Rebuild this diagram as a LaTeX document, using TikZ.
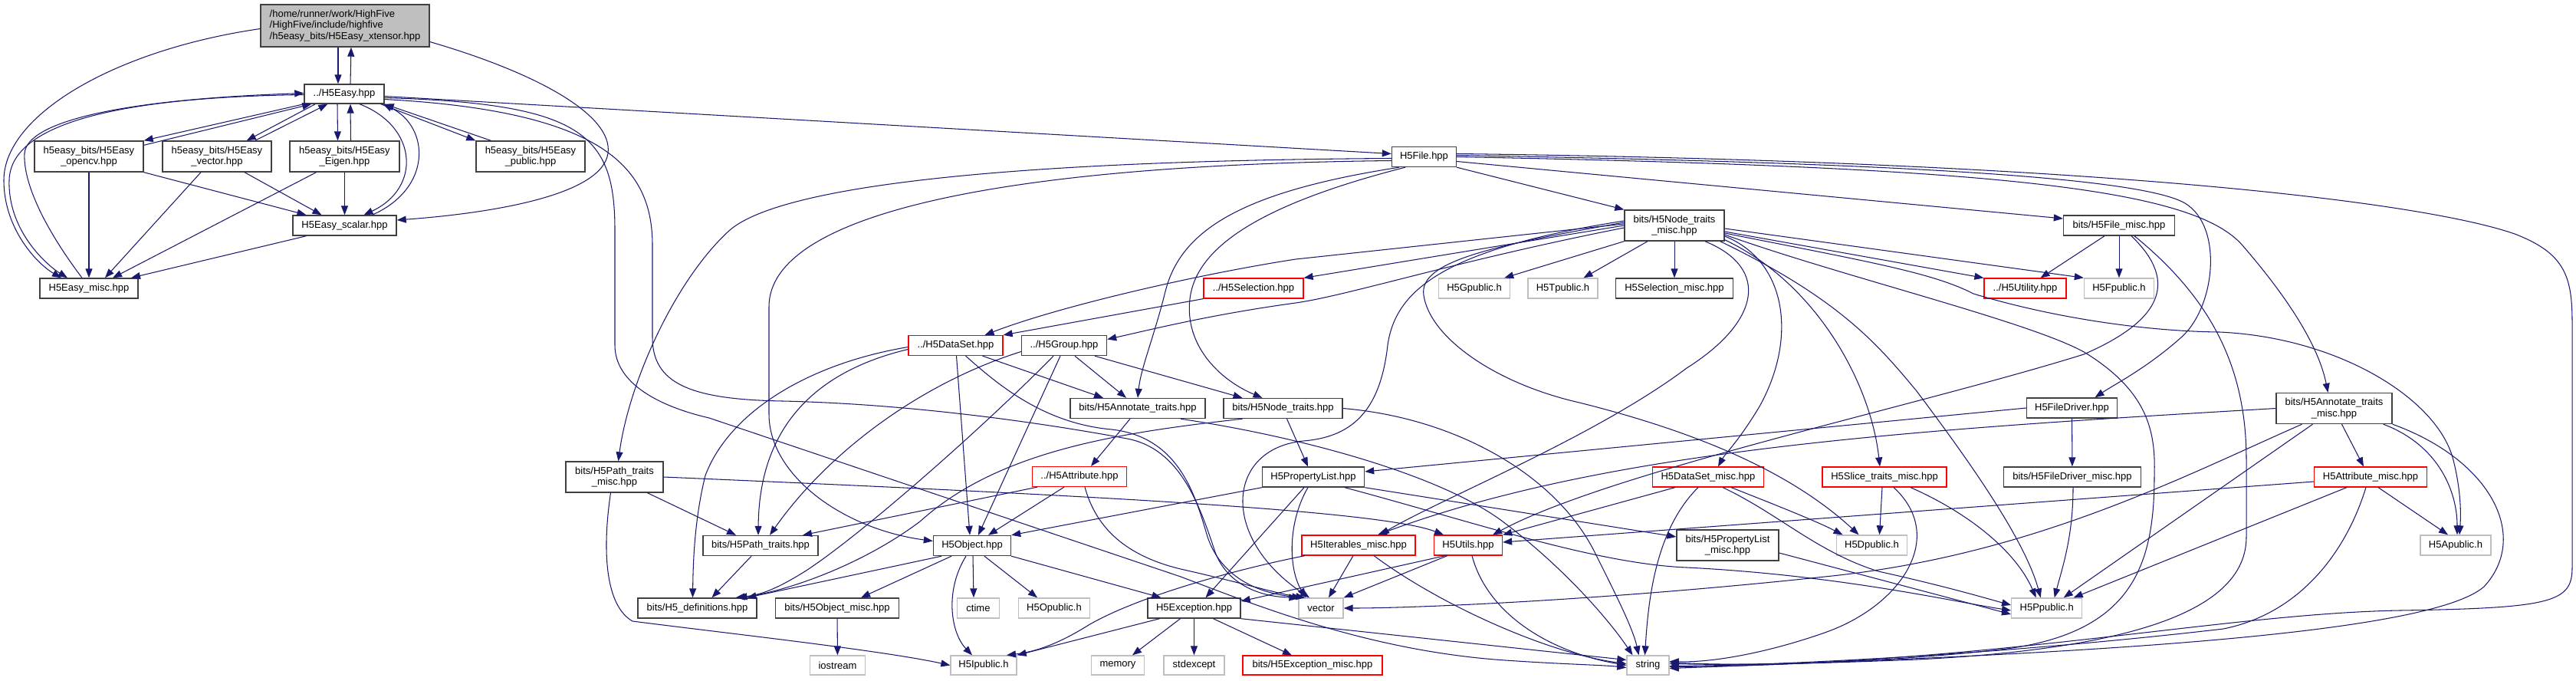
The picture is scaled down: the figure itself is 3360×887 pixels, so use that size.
\documentclass[tikz,border=0pt]{standalone}
\usepackage{fontspec}
\setmainfont{Liberation Sans}
\usetikzlibrary{arrows.meta}
\definecolor{edgec}{RGB}{25,25,112}
\definecolor{grayb}{RGB}{191,191,191}
\definecolor{darkb}{RGB}{64,64,64}
\newcommand\dxfont{\fontsize{13}{14.5}\selectfont}
\begin{document}
\begin{tikzpicture}[x=1pt,y=-1pt,
  nb/.style={draw=darkb,line width=1.4pt,fill=white,rectangle,inner sep=0pt,align=center,font=\dxfont},
  nr/.style={nb,draw=red,line width=1.2pt},
  ng/.style={nb,draw=grayb,line width=1.4pt},
  sz/.style 2 args={minimum width=#1pt,minimum height=#2pt},
  e/.style={draw=edgec,line width=1.05pt,-{Triangle[length=12pt,width=9pt]}}]
\useasboundingbox (0,0) rectangle (3360,887);
\fill[white] (0,0) rectangle (3360,887);
% nodes
\node[nb,fill=grayb,sz={220}{55},align=left] (xt) at (450,33.5) {/home/runner/work/HighFive\\/HighFive/include/highfive\\/h5easy\_bits/H5Easy\_xtensor.hpp};
\node[nb,sz={104}{25}] (easy) at (449,122.5) {../H5Easy.hpp};
\node[nb,sz={142}{40}] (opencv) at (116,204) {h5easy\_bits/H5Easy\\\_opencv.hpp};
\node[nb,sz={142}{40}] (vecb) at (283,204) {h5easy\_bits/H5Easy\\\_vector.hpp};
\node[nb,sz={143}{40}] (eigen) at (449.5,204) {h5easy\_bits/H5Easy\\\_Eigen.hpp};
\node[nb,sz={142}{40}] (pub) at (692,204) {h5easy\_bits/H5Easy\\\_public.hpp};
\node[nb,sz={135}{26}] (scalar) at (449.5,294) {H5Easy\_scalar.hpp};
\node[nb,sz={128}{26}] (emisc) at (116,376) {H5Easy\_misc.hpp};
\node[nb,sz={84}{26}] (file) at (1857.5,204.5) {H5File.hpp};
\node[nb,sz={130}{40}] (ntm) at (2184,294) {bits/H5Node\_traits\\\_misc.hpp};
\node[nb,sz={145}{26}] (fmisc) at (2764,294) {bits/H5File\_misc.hpp};
\node[ng,sz={93}{26}] (gpub) at (1923,376) {H5Gpublic.h};
\node[ng,sz={91}{26}] (tpub) at (2038.5,376) {H5Tpublic.h};
\node[nb,sz={153}{26}] (selmisc) at (2184,376) {H5Selection\_misc.hpp};
\node[nr,sz={130}{26}] (sel) at (1635,376) {../H5Selection.hpp};
\node[nr,sz={107}{26}] (utility) at (2641.5,376) {../H5Utility.hpp};
\node[ng,sz={91}{26}] (fpub) at (2764,376) {H5Fpublic.h};
\node[nr,sz={123}{26}] (dset) at (1246.5,450.5) {../H5DataSet.hpp};
\node[nb,sz={111}{26}] (group) at (1388,450.5) {../H5Group.hpp};
\node[nb,sz={176}{26}] (annot) at (1484,532.5) {bits/H5Annotate\_traits.hpp};
\node[nb,sz={155}{26}] (nodet) at (1673.5,532.5) {bits/H5Node\_traits.hpp};
\node[nb,sz={118}{26}] (fdriver) at (2702.5,532) {H5FileDriver.hpp};
\node[nb,sz={151}{40}] (annotm) at (3044.5,532.5) {bits/H5Annotate\_traits\\\_misc.hpp};
\node[nb,sz={127}{40}] (pathm) at (801.5,622) {bits/H5Path\_traits\\\_misc.hpp};
\node[nr,sz={123}{26}] (attr) at (1408,621.5) {../H5Attribute.hpp};
\node[nb,sz={133}{26}] (plist) at (1713,622) {H5PropertyList.hpp};
\node[nr,sz={145}{26}] (dsmisc) at (2228,622) {H5DataSet\_misc.hpp};
\node[nr,sz={162}{26}] (slice) at (2458,622) {H5Slice\_traits\_misc.hpp};
\node[nb,sz={179}{26}] (fdmisc) at (2703,622) {bits/H5FileDriver\_misc.hpp};
\node[nr,sz={147}{26}] (attrm) at (3092,622) {H5Attribute\_misc.hpp};
\node[nb,sz={150}{26}] (path) at (992,711.5) {bits/H5Path\_traits.hpp};
\node[nb,sz={101}{26}] (obj) at (1268,711.5) {H5Object.hpp};
\node[nr,sz={148}{26}] (iter) at (1772,711) {H5Iterables\_misc.hpp};
\node[nr,sz={89}{26}] (utils) at (1915,711) {H5Utils.hpp};
\node[nb,sz={133}{40}] (plmisc) at (2253.5,711) {bits/H5PropertyList\\\_misc.hpp};
\node[ng,sz={92}{26}] (dpub) at (2441.5,711) {H5Dpublic.h};
\node[ng,sz={92}{26}] (apub) at (3203,711) {H5Apublic.h};
\node[nb,sz={155}{26}] (defs) at (909.5,793) {bits/H5\_definitions.hpp};
\node[nb,sz={161}{26}] (omisc) at (1092,793) {bits/H5Object\_misc.hpp};
\node[ng,sz={55}{26}] (ctime) at (1276,793) {ctime};
\node[ng,sz={93}{26}] (opub) at (1375,793) {H5Opublic.h};
\node[nb,sz={121}{26}] (exc) at (1557.5,793) {H5Exception.hpp};
\node[ng,sz={58}{26}] (vec) at (1723,793) {vector};
\node[ng,sz={92}{26}] (ppub) at (2669.7,793) {H5Ppublic.h};
\node[ng,sz={72}{25}] (iostream) at (1092.5,867.5) {iostream};
\node[ng,sz={86}{25}] (ipub) at (1283,867.5) {H5Ipublic.h};
\node[ng,sz={69}{25}] (memory) at (1458,867.5) {memory};
\node[ng,sz={79}{25}] (stdexcept) at (1557.5,867.5) {stdexcept};
\node[nr,sz={182}{25}] (excmisc) at (1712,867.5) {bits/H5Exception\_misc.hpp};
\node[ng,sz={55}{25}] (string) at (2149.5,867.5) {string};
% top cluster
\draw[e] ([xshift=-9pt]xt.south) -- ([xshift=-8pt]easy.north);
\draw[e] ([xshift=8pt]easy.north) -- ([xshift=8pt]xt.south);
\draw[e] ([yshift=-4pt]xt.west) .. controls (150,65) and (5,150) .. (5,235) .. controls (5,300) and (50,345) .. ([xshift=-36pt]emisc.north);
\draw[e] ([yshift=-1pt]easy.west) .. controls (200,126) and (14,150) .. (12,235) .. controls (10,300) and (60,345) .. ([xshift=-28pt]emisc.north);
\draw[e] ([xshift=-9pt]emisc.north) .. controls (60,300) and (30,240) .. (32,200) .. controls (35,160) and (150,130) .. ([yshift=1pt]easy.west);
\draw[e] ([yshift=-21pt]xt.east) .. controls (700,95) and (800,150) .. (793,200) .. controls (785,255) and (640,278) .. ([yshift=7pt]scalar.east);
\draw[e] (easy.south west) -- (opencv.north east);
\draw[e] ([yshift=-6pt]opencv.north east) -- ([xshift=10pt]easy.south west);
\draw[e] ([xshift=15pt]easy.south west) -- ([xshift=-33pt]vecb.north east);
\draw[e] ([xshift=-22pt]vecb.north east) -- ([xshift=31pt]easy.south west);
\draw[e] ([xshift=-9pt]easy.south) -- ([xshift=-9pt]eigen.north);
\draw[e] ([xshift=8pt]eigen.north) -- ([xshift=8pt]easy.south);
\draw[e] ([xshift=-5pt]easy.south east) -- (pub.north west);
\draw[e] ([xshift=20pt]pub.north west) -- (easy.south east);
\draw[e] ([xshift=20pt]easy.south) .. controls (545,165) and (550,245) .. ([xshift=25pt]scalar.north);
\draw[e] ([xshift=36pt]scalar.north) .. controls (565,245) and (560,165) .. ([xshift=-2pt]easy.south east);
\draw[e] (opencv) -- (emisc);
\draw[e] (opencv.south east) -- ([xshift=-50pt]scalar.north);
\draw[e] ([xshift=-21pt]vecb.south) -- ([xshift=21pt]emisc.north);
\draw[e] ([xshift=36pt]vecb.south) -- ([xshift=-30pt]scalar.north);
\draw[e] ([xshift=-37pt]eigen.south) -- ([xshift=31pt]emisc.north);
\draw[e] (eigen) -- (scalar);
\draw[e] ([xshift=-50pt]scalar.south) -- ([xshift=55pt]emisc.north);
\draw[e] ([yshift=-3pt]easy.east) -- ([yshift=4pt]file.west);
\draw[e] ([yshift=-5pt]easy.east) .. controls (760,135) and (802,175) .. (802,300) -- (802,450) .. controls (802,500) and (860,530) .. (925,545) -- (1540,752) .. controls (1640,790) and (1780,846) .. (1950,860) .. controls (2030,866) and (2090,867) .. ([yshift=-3pt]string.west);
\draw[e] ([yshift=-7pt]easy.east) .. controls (790,145) and (851,220) .. (851,320) -- (851,440) .. controls (851,500) and (900,521) .. (1021,523) .. controls (1200,527) and (1380,555) .. (1470,572) .. controls (1540,585) and (1565,660) .. (1585,720) .. controls (1600,760) and (1640,778) .. (vec.north west);
% H5File
\draw[e] (file.south east) -- (ntm.north west);
\draw[e] ([yshift=-6pt]file.east) -- ([yshift=9pt]fmisc.west);
\draw[e] ([yshift=2pt]file.east) .. controls (2450,212) and (2790,230) .. (2850,265) .. controls (2900,295) and (2890,400) .. (2845,440) .. controls (2800,480) and (2760,500) .. ([xshift=30pt]fdriver.north);
\draw[e] (file.east) .. controls (2600,218) and (2860,245) .. (2925,320) .. controls (2990,395) and (3025,455) .. ([xshift=-8pt]annotm.north);
\draw[e] ([yshift=4pt]file.east) .. controls (2700,210) and (3150,260) .. (3280,305) .. controls (3345,330) and (3355,360) .. (3355,420) -- (3355,740) .. controls (3355,785) and (3330,793) .. (3130,796) .. controls (2900,800) and (2600,866) .. ([yshift=-2pt]string.east);
\draw[e] ([yshift=-2pt]file.west) .. controls (1250,210) and (1010,250) .. (952,300) .. controls (880,365) and (820,500) .. ([xshift=5pt]pathm.north);
\draw[e] ([yshift=-5pt]file.west) .. controls (1300,215) and (1003,280) .. (1003,400) -- (1003,540) .. controls (1003,620) and (1100,690) .. ([yshift=6pt]obj.west);
\draw[e] ([xshift=10pt]file.south west) .. controls (1620,250) and (1540,300) .. (1520,380) .. controls (1505,440) and (1488,480) .. (annot.north);
\draw[e] ([xshift=18pt]file.south west) .. controls (1650,265) and (1560,320) .. (1552,390) .. controls (1545,450) and (1590,495) .. ([xshift=-27pt]nodet.north);
% Node_traits_misc
\draw[e] ([yshift=2pt]ntm.west) -- (1690,338) .. controls (1560,358) and (1380,400) .. ([xshift=38pt]dset.north);
\draw[e] (ntm.west) -- (sel.north east);
\draw[e] ([yshift=-3pt]ntm.west) .. controls (1900,340) and (1760,385) .. (1690,395) .. controls (1580,410) and (1500,430) .. ([yshift=8pt]group.east);
\draw[e] (ntm.south west) -- ([xshift=-8pt]gpub.north east);
\draw[e] ([xshift=-35pt]ntm.south) -- ([xshift=27pt]tpub.north);
\draw[e] (ntm) -- (selmisc);
\draw[e] ([yshift=-8pt]ntm.east) -- (utility.north west);
\draw[e] ([yshift=-4pt]ntm.east) -- (fpub.north west);
\draw[e] ([yshift=-10pt]ntm.east) .. controls (2430,340) and (2520,355) .. (2574,383) .. controls (2680,415) and (2800,432) .. (2895,433) .. controls (3050,440) and (3180,520) .. (3200,600) .. controls (3210,640) and (3210,670) .. ([xshift=5pt]apub.north);
\draw[e] ([yshift=-12pt]ntm.east) .. controls (2400,360) and (2650,420) .. (2720,460) .. controls (2800,510) and (2812,560) .. (2810,620) .. controls (2810,740) and (2780,830) .. (2600,848) .. controls (2450,864) and (2300,868) .. ([yshift=2pt]string.east);
\draw[e] ([yshift=-14pt]ntm.east) .. controls (2330,340) and (2345,440) .. (2295,530) .. controls (2268,575) and (2250,592) .. ([xshift=13pt]dsmisc.north);
\draw[e] ([yshift=2pt]ntm.south east) .. controls (2370,370) and (2440,500) .. ([xshift=-6pt]slice.north);
\draw[e] ([yshift=4pt]ntm.west) .. controls (1950,320) and (1850,340) .. (1857,385) .. controls (1865,440) and (1950,500) .. (2060,525) .. controls (2200,560) and (2330,610) .. ([xshift=-17pt]dpub.north);
\draw[e] ([xshift=40pt]ntm.south) .. controls (2310,350) and (2295,420) .. (2200,480) .. controls (2080,570) and (1880,650) .. ([xshift=28pt]iter.north);
\draw[e] ([yshift=6pt]ntm.west) .. controls (1880,325) and (1820,380) .. (1810,450) .. controls (1800,540) and (1760,570) .. (1700,575) .. controls (1600,585) and (1590,700) .. ([xshift=-15pt]vec.north);
\draw[e] ([xshift=-6pt]ntm.south east) .. controls (2400,390) and (2450,450) .. (2500,510) .. controls (2560,590) and (2640,700) .. ([xshift=-8pt]ppub.north);
\draw[e] (sel.south west) -- (dset.north east);
% File_misc
\draw[e] ([xshift=-19pt]fmisc.south) -- ([xshift=20pt]utility.north);
\draw[e] (fmisc) -- (fpub);
\draw[e] ([xshift=16pt]fmisc.south) .. controls (2845,370) and (2815,420) .. (2718,462) .. controls (2500,530) and (2100,615) .. ([xshift=32pt]utils.north);
\draw[e] ([xshift=20pt]fmisc.south) .. controls (2885,390) and (2930,480) .. (2930,600) -- (2930,700) .. controls (2930,790) and (2800,845) .. (2500,860) .. controls (2350,866) and (2250,868) .. ([yshift=4pt]string.east);
% FileDriver
\draw[e] (fdriver.west) -- ([yshift=7pt]plist.east);
\draw[e] (fdriver) -- (fdmisc);
\draw[e] ([xshift=1pt]fdmisc.south) .. controls (2704,700) and (2690,740) .. ([xshift=10pt]ppub.north);
% Annotate_traits_misc
\draw[e] (annotm.west) .. controls (2500,560) and (2100,585) .. ([xshift=25pt]iter.north);
\draw[e] ([xshift=-42pt]annotm.south) .. controls (2850,620) and (2650,725) .. (2380,752) .. controls (2100,782) and (1850,793) .. (vec.east);
\draw[e] ([xshift=-28pt]annotm.south) -- ([xshift=22pt]ppub.north);
\draw[e] ([xshift=10pt]annotm.south) -- ([xshift=-9pt]attrm.north);
\draw[e] ([xshift=-12pt]annotm.south east) .. controls (3180,580) and (3205,640) .. ([xshift=2pt]apub.north);
\draw[e] (annotm.south east) .. controls (3250,600) and (3300,700) .. (3240,765) .. controls (3160,835) and (2600,856) .. ([yshift=-4pt]string.east);
% Attribute_misc
\draw[e] ([yshift=-6pt]attrm.west) -- ([yshift=4pt]utils.east);
\draw[e] ([xshift=-31pt]attrm.south) -- ([xshift=35pt]ppub.north);
\draw[e] ([xshift=-6pt]attrm.south) .. controls (3060,720) and (3000,800) .. (2900,820) .. controls (2600,855) and (2300,868) .. ([yshift=-1pt]string.east);
\draw[e] ([xshift=10pt]attrm.south) -- ([xshift=-10pt]apub.north);
% Slice_traits_misc
\draw[e] ([xshift=-3pt]slice.south) -- ([xshift=10pt]dpub.north);
\draw[e] ([xshift=34pt]slice.south) .. controls (2570,670) and (2630,720) .. ([xshift=-14pt]ppub.north);
\draw[e] ([xshift=12pt]slice.south) .. controls (2540,700) and (2480,790) .. (2380,825) .. controls (2300,853) and (2230,864) .. ([yshift=5pt]string.east);
% DataSet_misc
\draw[e] ([xshift=-43pt]dsmisc.south) -- (utils.north east);
\draw[e] ([xshift=-13pt]dsmisc.south) .. controls (2160,690) and (2150,780) .. ([xshift=-4pt]string.north);
\draw[e] ([xshift=30pt]dsmisc.south) .. controls (2320,660) and (2370,680) .. ([xshift=-38pt]dpub.north);
\draw[e] ([xshift=19pt]dsmisc.south) .. controls (2320,670) and (2370,720) .. (2450,745) .. controls (2540,765) and (2590,780) .. ([yshift=4pt]ppub.west);
% PropertyList
\draw[e] (plist.south west) -- (obj.north east);
\draw[e] ([xshift=-12pt]plist.south) -- ([xshift=15pt]exc.north);
\draw[e] ([xshift=-7pt]plist.south) .. controls (1680,680) and (1680,740) .. ([xshift=-20pt]vec.north);
\draw[e] ([xshift=41pt]plist.south) .. controls (1920,680) and (2080,735) .. (2200,740) .. controls (2400,750) and (2550,785) .. ([yshift=-3pt]ppub.west);
\draw[e] (plist.south east) -- ([yshift=11pt]plmisc.west);
\draw[e] ([yshift=-10pt]plmisc.east) -- ([yshift=-8pt]ppub.west);
% Node_traits
\draw[e] ([xshift=5pt]nodet.south) -- ([xshift=-7pt]plist.north);
\draw[e] ([xshift=-53pt]nodet.south) .. controls (1450,565) and (1300,590) .. (1200,680) .. controls (1120,740) and (1020,772) .. ([xshift=53pt]defs.north);
\draw[e] (nodet.east) .. controls (1900,545) and (2030,620) .. (2080,720) .. controls (2110,780) and (2130,820) .. ([xshift=-12pt]string.north);
% Annotate_traits
\draw[e] ([xshift=-10pt]annot.south) -- ([xshift=15pt]attr.north);
\draw[e] ([xshift=56pt]annot.south) .. controls (1700,570) and (1880,620) .. (1960,680) .. controls (2040,740) and (2100,810) .. ([xshift=-20pt]string.north);
% DataSet
\draw[e] ([yshift=-2pt]dset.west) .. controls (1050,475) and (950,540) .. (920,620) .. controls (905,680) and (904,740) .. ([xshift=-6pt]defs.north);
\draw[e] ([yshift=-5pt]dset.west) .. controls (1060,485) and (990,560) .. ([xshift=-3pt]path.north);
\draw[e] ([xshift=1pt]dset.south) -- ([xshift=-3pt]obj.north);
\draw[e] ([xshift=35pt]dset.south) -- ([xshift=-45pt]annot.north);
\draw[e] ([xshift=13pt]dset.south) .. controls (1300,500) and (1360,552) .. (1450,560) .. controls (1540,570) and (1560,650) .. (1575,700) .. controls (1590,745) and (1630,772) .. ([xshift=4pt]vec.north west);
% Group
\draw[e] ([yshift=-8pt]group.west) .. controls (1200,500) and (1080,590) .. ([xshift=12pt]path.north);
\draw[e] ([xshift=-14pt]group.south) .. controls (1280,560) and (1120,700) .. (1050,745) .. controls (1010,770) and (990,776) .. ([xshift=50pt]defs.north);
\draw[e] ([xshift=-5pt]group.south) -- ([xshift=8pt]obj.north);
\draw[e] ([xshift=14pt]group.south) -- ([xshift=-15pt]annot.north);
\draw[e] ([xshift=40pt]group.south) -- ([xshift=-53pt]nodet.north);
% Attribute
\draw[e] ([xshift=-55pt]attr.south) -- ([xshift=55pt]path.north);
\draw[e] ([xshift=-20pt]attr.south) -- ([xshift=21pt]obj.north);
\draw[e] ([xshift=7pt]attr.south) .. controls (1430,690) and (1470,725) .. (1540,742) .. controls (1620,760) and (1670,775) .. ([xshift=9pt]vec.north west);
% Path_traits_misc
\draw[e] (pathm.east) .. controls (1400,645) and (1800,665) .. ([xshift=-32pt]utils.north);
\draw[e] ([xshift=43pt]pathm.south) -- ([xshift=-32pt]path.north);
\draw[e] ([xshift=-5pt]pathm.south) .. controls (785,720) and (790,790) .. (825,810) .. controls (950,826) and (1150,848) .. (ipub.west);
\draw[e] ([xshift=-12pt]path.south) -- ([xshift=19pt]defs.north);
% Object
\draw[e] ([xshift=-40pt]obj.south) -- ([xshift=65pt]defs.north);
\draw[e] ([xshift=-27pt]obj.south) -- ([xshift=31pt]omisc.north);
\draw[e] ([xshift=-8pt]obj.south) .. controls (1232,770) and (1240,825) .. ([xshift=-15pt]ipub.north);
\draw[e] ([xshift=1pt]obj.south) -- ([xshift=-6pt]ctime.north);
\draw[e] ([xshift=16pt]obj.south) -- ([xshift=-22pt]opub.north);
\draw[e] (obj.south east) -- ([xshift=-43pt]exc.north);
\draw[e] (omisc) -- (iostream);
% Exception
\draw[e] ([xshift=-45pt]exc.south) -- (ipub.north east);
\draw[e] ([xshift=-18pt]exc.south) -- ([xshift=19pt]memory.north);
\draw[e] (exc) -- (stdexcept);
\draw[e] ([xshift=25pt]exc.south) -- ([xshift=-27pt]excmisc.north);
\draw[e] (exc.south east) -- ([yshift=7pt]string.west);
% Iterables
\draw[e] ([xshift=-70pt]iter.south) .. controls (1600,745) and (1480,780) .. (1420,815) .. controls (1380,840) and (1350,850) .. ([xshift=30pt]ipub.north);
\draw[e] ([xshift=-7pt]iter.south) -- ([xshift=10pt]vec.north);
\draw[e] ([xshift=20pt]iter.south) .. controls (1880,790) and (2020,852) .. ([yshift=2pt]string.west);
% Utils
\draw[e] ([xshift=-30pt]utils.south) -- ([yshift=9pt]exc.east);
\draw[e] ([xshift=-27pt]utils.south) -- (vec.north east);
\draw[e] ([xshift=5pt]utils.south) .. controls (1940,800) and (2020,850) .. (string.west);
\end{tikzpicture}
\end{document}
